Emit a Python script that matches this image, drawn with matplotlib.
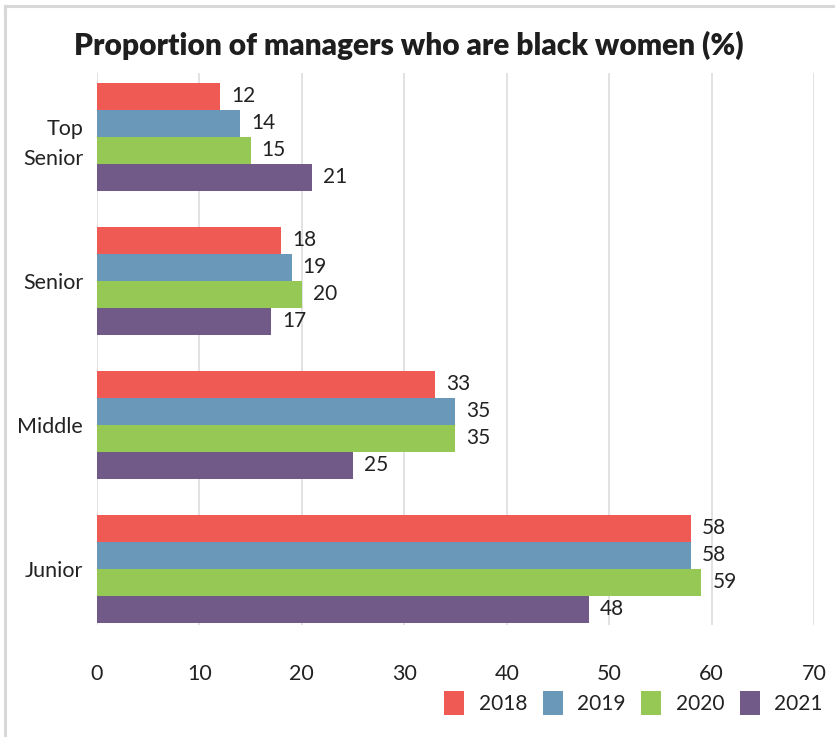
import numpy as np
import matplotlib.pyplot as plt
from matplotlib.lines import Line2D

plt.rcParams['font.family'] = ['Lato', 'DejaVu Sans']

levels = ['Top\nSenior', 'Senior', 'Middle', 'Junior']
years = ['2018', '2019', '2020', '2021']
share_2018 = [12, 18, 33, 58]
share_2019 = [14, 19, 35, 58]
share_2020 = [15, 20, 35, 59]
share_2021 = [21, 17, 25, 48]
colors = ['#f05a55', '#6a98b9', '#96c855', '#715a87']

series = [share_2018, share_2019, share_2020, share_2021]

fig = plt.figure(figsize=(8.35, 7.37), dpi=100)
ax = fig.add_axes([97 / 835, 1 - 625 / 737, 717 / 835, 552 / 737])

pos = np.arange(len(levels))
h = 0.1875
for i, (vals, yr, c) in enumerate(zip(series, years, colors)):
    bars = ax.barh(pos + (i - 1.5) * h, vals, height=h, color=c, label=yr, zorder=3)
    ax.bar_label(bars, padding=8, fontsize=15, color='#222222')

ax.set_xlim(0, 70)
ax.set_ylim(3.389, -0.444)
ax.set_xticks(range(0, 71, 10))
ax.set_yticks(pos)
ax.set_yticklabels(levels, ha='right', linespacing=1.6)
ax.tick_params(axis='both', length=0, labelsize=15.5, colors='#222222')
ax.tick_params(axis='x', pad=28)
ax.tick_params(axis='y', pad=10)
ax.grid(axis='x', color='#dddddd', linewidth=1.2, zorder=0)
for s in ax.spines.values():
    s.set_visible(False)

fig.text(409 / 835, 1 - 45 / 737, 'Proportion of managers who are black women (%)',
         ha='center', va='center', fontsize=21.5, fontweight='heavy', color='#1e1e1e')

fig.legend(loc='center right', bbox_to_anchor=(833 / 835, 1 - 703 / 737), ncol=4,
           frameon=False, fontsize=15, handlelength=0.95, handleheight=1.35,
           handletextpad=0.7, columnspacing=0.75, borderpad=0, labelcolor='#222222')

# light frame along the top and left edges
fig.add_artist(Line2D([5 / 835, 1], [1 - 6 / 737, 1 - 6 / 737], color='#d8d8d8', lw=2.2))
fig.add_artist(Line2D([5 / 835, 5 / 835], [0, 1 - 6 / 737], color='#d8d8d8', lw=2.2))

fig.savefig('out.png', dpi=100)
